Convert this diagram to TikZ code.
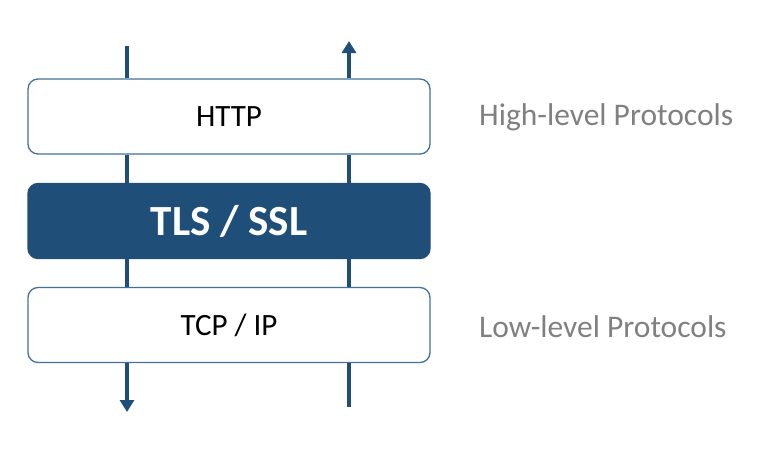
\documentclass[tikz,border=0pt]{standalone}
\usepackage{fontspec}
\setmainfont{Carlito}
\usetikzlibrary{arrows.meta}
\definecolor{navy}{HTML}{1F4E79}
\definecolor{boxline}{HTML}{41719C}
\definecolor{lbl}{HTML}{808080}
\tikzset{
  layer/.style={draw=boxline, line width=1.3pt, rounded corners=10pt, minimum width=402pt, minimum height=75pt, inner sep=0pt, fill=white, font=\fontsize{31}{36}\selectfont},
  seclayer/.style={layer, fill=navy, draw=navy, text=white, font=\fontsize{43}{48}\selectfont\bfseries},
  flow/.style={draw=navy, line width=4pt},
  flowarrow/.style={flow, -{Triangle[width=14pt,length=12pt]}},
  sidelabel/.style={anchor=west, text=lbl, inner sep=0pt, font=\fontsize{31.5}{36}\selectfont}
}
\begin{document}
\begin{tikzpicture}[x=1pt,y=-1pt]
\useasboundingbox (0,0) rectangle (768,450);
\coordinate (ltop) at (127,46);
\coordinate (rtop) at (349,41);
\coordinate (lbot) at (127,412);
\coordinate (rbot) at (349,407);
\node[layer] (http) at (229,116.5) {HTTP};
\node[seclayer] (tls) at (229,221) {TLS / SSL};
\node[layer] (tcp) at (229,325) {TCP / IP};
\draw[flow] (ltop) -- (ltop |- http.north);
\draw[flow] (http.south -| ltop) -- (tls.north -| ltop);
\draw[flow] (tls.south -| ltop) -- (tcp.north -| ltop);
\draw[flowarrow] (tcp.south -| ltop) -- (lbot);
\draw[flow] (rbot) -- (tcp.south -| rtop);
\draw[flow] (tcp.north -| rtop) -- (tls.south -| rtop);
\draw[flow] (tls.north -| rtop) -- (http.south -| rtop);
\draw[flowarrow] (http.north -| rtop) -- (rtop);
\node[sidelabel] (high) at (479,117) {High-level Protocols};
\node[sidelabel] (low) at (479,327) {Low-level Protocols};
\end{tikzpicture}
\end{document}
